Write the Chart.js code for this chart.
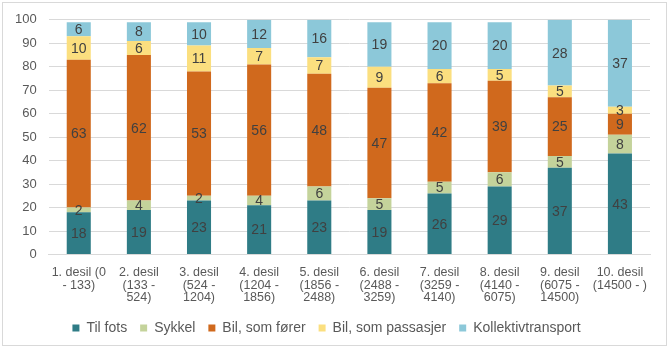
<!DOCTYPE html>
<html lang="no">
  <head>
    <meta charset="UTF-8" />
    <title>Reisemiddel etter desil</title>
    <script src="https://cdn.jsdelivr.net/npm/chart.js"></script>
    <style>
      body { margin: 0; background: #fff; }
    </style>
  </head>
  <body>
    <canvas id="myChart" width="670" height="351"></canvas>
    <script>
      const categories = [
        ["1. desil (0", "- 133)"],
        ["2. desil", "(133 -", "524)"],
        ["3. desil", "(524 -", "1204)"],
        ["4. desil", "(1204 -", "1856)"],
        ["5. desil", "(1856 -", "2488)"],
        ["6. desil", "(2488 -", "3259)"],
        ["7. desil", "(3259 -", "4140)"],
        ["8. desil", "(4140 -", "6075)"],
        ["9. desil", "(6075 -", "14500)"],
        ["10. desil", "(14500 - )"],
      ];
      const tilFots = [18, 19, 23, 21, 23, 19, 26, 29, 37, 43];
      const sykkel = [2, 4, 2, 4, 6, 5, 5, 6, 5, 8];
      const bilForer = [63, 62, 53, 56, 48, 47, 42, 39, 25, 9];
      const bilPassasjer = [10, 6, 11, 7, 7, 9, 6, 5, 5, 3];
      const kollektiv = [6, 8, 10, 12, 16, 19, 20, 20, 28, 37];

      const font = "'Liberation Sans', Arial, sans-serif";

      // light frame round the whole chart
      const frame = {
        id: "frame",
        beforeDraw(chart) {
          const c = chart.ctx;
          c.save();
          c.strokeStyle = "#d9d9d9";
          c.lineWidth = 1;
          c.strokeRect(2.5, 2.5, 664, 343);
          c.restore();
        },
      };

      // simple value labels in the middle of each segment
      const valueLabels = {
        id: "valueLabels",
        afterDatasetsDraw(chart) {
          const c = chart.ctx;
          c.save();
          c.font = "14px " + font;
          c.fillStyle = "#404040";
          c.textAlign = "center";
          c.textBaseline = "middle";
          chart.data.datasets.forEach((ds, i) => {
            chart.getDatasetMeta(i).data.forEach((bar, j) => {
              const p = bar.getProps(["x", "y", "base"], true);
              c.fillText(ds.data[j], p.x, (p.y + p.base) / 2 + 1);
            });
          });
          c.restore();
        },
      };

      const ctx = document.getElementById("myChart").getContext("2d");
      new Chart(ctx, {
        type: "bar",
        data: {
          labels: categories,
          datasets: [
            { label: "Til fots", data: tilFots, backgroundColor: "#2f7c86" },
            { label: "Sykkel", data: sykkel, backgroundColor: "#c4d39b" },
            { label: "Bil, som fører", data: bilForer, backgroundColor: "#d0691d" },
            { label: "Bil, som passasjer", data: bilPassasjer, backgroundColor: "#fbdf7f" },
            { label: "Kollektivtransport", data: kollektiv, backgroundColor: "#8cc8d9" },
          ],
        },
        options: {
          responsive: false,
          animation: false,
          devicePixelRatio: 1,
          layout: { padding: { left: 3, right: 20, top: 16, bottom: 6 } },
          datasets: { bar: { categoryPercentage: 1, barPercentage: 0.4 } },
          plugins: {
            legend: {
              position: "bottom",
              labels: {
                font: { family: font, size: 14 },
                color: "#595959",
                boxWidth: 7,
                boxHeight: 7,
                padding: 13,
              },
            },
            tooltip: { enabled: false },
          },
          scales: {
            x: {
              stacked: true,
              grid: { display: false },
              border: { color: "#d9d9d9" },
              ticks: {
                font: { family: font, size: 12.5, lineHeight: 1.0 },
                color: "#595959",
                maxRotation: 0,
                autoSkip: false,
                padding: 4,
              },
            },
            y: {
              stacked: true,
              min: 0,
              max: 100,
              grid: { color: "#d9d9d9", drawTicks: false },
              border: { display: false },
              ticks: {
                stepSize: 10,
                padding: 12,
                font: { family: font, size: 13 },
                color: "#595959",
              },
            },
          },
        },
        plugins: [frame, valueLabels],
      });
    </script>
  </body>
</html>
